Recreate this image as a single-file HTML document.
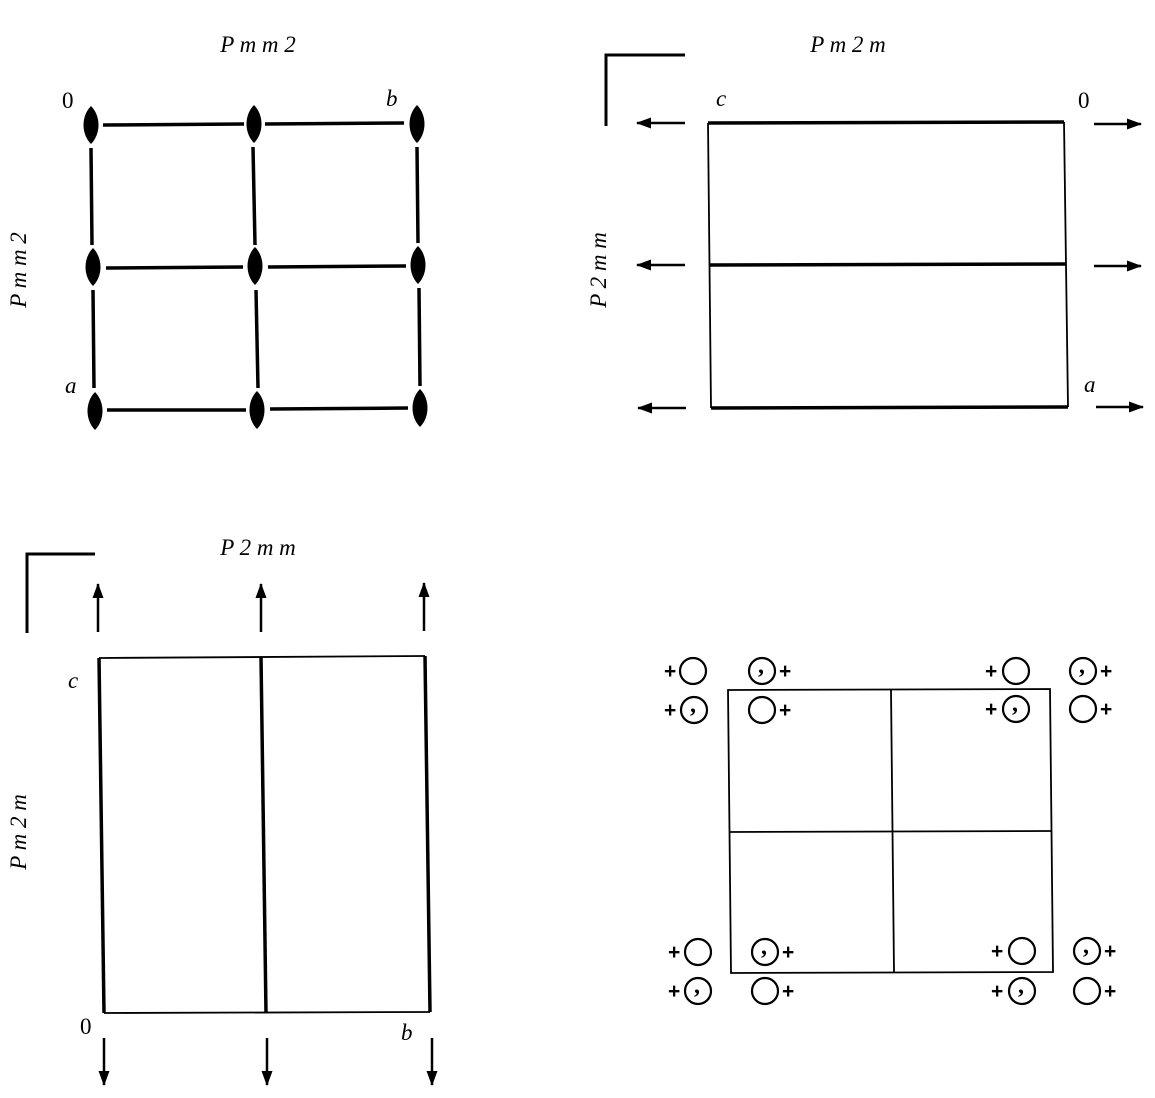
<!DOCTYPE html>
<html><head><meta charset="utf-8"><style>
html,body{margin:0;padding:0;background:#fff;}
svg{display:block;}
text{font-family:"Liberation Serif",serif;font-style:italic;font-size:23px;fill:#000;}
.up{font-style:normal;}
.pl{font-style:normal;font-weight:bold;font-family:"Liberation Sans",sans-serif;font-size:21px;}
.cm{font-style:normal;font-weight:bold;font-family:"Liberation Serif",serif;font-size:24px;}
</style></head><body>
<svg width="1155" height="1098" viewBox="0 0 1155 1098">
<defs>
<marker id="ah" markerWidth="15" markerHeight="11" refX="14" refY="5.5" orient="auto" markerUnits="userSpaceOnUse" viewBox="0 0 15 11">
<path d="M0,0 L15,5.5 L0,11 Z" fill="#000"/></marker>
<path id="lens" d="M0,-19 C10,-9 10,9 0,19 C-10,9 -10,-9 0,-19 Z" fill="#000"/>
</defs>
<!-- Panel 1 -->
<g>
<text x="258" y="52" text-anchor="middle">P m m 2</text>
<text x="0" y="0" transform="translate(26,270) rotate(-90)" text-anchor="middle">P m m 2</text>
<text x="62" y="108" class="up">0</text>
<text x="386" y="106">b</text>
<text x="65" y="393">a</text>
<g stroke="#000" stroke-width="3.5">
<line x1="103" y1="125" x2="244" y2="124"/><line x1="265" y1="124" x2="404" y2="123"/>
<line x1="106" y1="268" x2="243" y2="267"/><line x1="268" y1="267" x2="406" y2="266"/>
<line x1="107" y1="410" x2="246" y2="410"/><line x1="270" y1="409" x2="408" y2="408"/>
<line x1="91" y1="148" x2="92" y2="245"/><line x1="93" y1="290" x2="94" y2="388"/>
<line x1="253" y1="147" x2="255" y2="245"/><line x1="256" y1="290" x2="258" y2="388"/>
<line x1="417" y1="147" x2="418" y2="243"/><line x1="419" y1="288" x2="420" y2="386"/>
</g>
<use href="#lens" x="91" y="125"/><use href="#lens" x="254" y="124"/><use href="#lens" x="417" y="124"/>
<use href="#lens" x="93" y="267"/><use href="#lens" x="255" y="266"/><use href="#lens" x="418" y="265"/>
<use href="#lens" x="95" y="411"/><use href="#lens" x="257" y="410"/><use href="#lens" x="420" y="408"/>
</g>
<!-- Panel 2 -->
<g>
<text x="848" y="52" text-anchor="middle">P m 2 m</text>
<text x="0" y="0" transform="translate(606,270) rotate(-90)" text-anchor="middle">P 2 m m</text>
<text x="716" y="106">c</text>
<text x="1078" y="108" class="up">0</text>
<text x="1084" y="392">a</text>
<path d="M606,126 V55 H685" fill="none" stroke="#000" stroke-width="3"/>
<g stroke="#000">
<line x1="708" y1="123" x2="1064" y2="122" stroke-width="3.5"/>
<line x1="709" y1="265" x2="1066" y2="264" stroke-width="3.5"/>
<line x1="711" y1="408" x2="1068" y2="407" stroke-width="3.5"/>
<line x1="708" y1="123" x2="711" y2="408" stroke-width="1.8"/>
<line x1="1064" y1="122" x2="1068" y2="407" stroke-width="1.8"/>
</g>
<g stroke="#000" stroke-width="2.5" marker-end="url(#ah)">
<line x1="685" y1="123" x2="637" y2="123"/><line x1="685" y1="265" x2="637" y2="265"/><line x1="686" y1="408" x2="638" y2="408"/>
<line x1="1094" y1="124" x2="1141" y2="124"/><line x1="1094" y1="266" x2="1141" y2="266"/><line x1="1096" y1="407" x2="1143" y2="407"/>
</g>
</g>
<!-- Panel 3 -->
<g>
<text x="258" y="555" text-anchor="middle">P 2 m m</text>
<text x="0" y="0" transform="translate(26,832) rotate(-90)" text-anchor="middle">P m 2 m</text>
<text x="68" y="688">c</text>
<text x="80" y="1034" class="up">0</text>
<text x="401" y="1040">b</text>
<path d="M27,633 V554 H95" fill="none" stroke="#000" stroke-width="3"/>
<g stroke="#000">
<line x1="99" y1="658" x2="104" y2="1013" stroke-width="3.5"/>
<line x1="261" y1="657" x2="266" y2="1013" stroke-width="3.5"/>
<line x1="425" y1="656" x2="430" y2="1012" stroke-width="3.5"/>
<line x1="99" y1="658" x2="425" y2="656" stroke-width="1.8"/>
<line x1="104" y1="1013" x2="430" y2="1012" stroke-width="1.8"/>
</g>
<g stroke="#000" stroke-width="2.5" marker-end="url(#ah)">
<line x1="98" y1="632" x2="98" y2="584"/><line x1="261" y1="632" x2="261" y2="584"/><line x1="424" y1="631" x2="424" y2="583"/>
<line x1="104" y1="1038" x2="104" y2="1085"/><line x1="267" y1="1038" x2="267" y2="1085"/><line x1="432" y1="1038" x2="432" y2="1085"/>
</g>
</g>
<!-- Panel 4 -->
<g>
<g stroke="#000" stroke-width="1.8" fill="none">
<path d="M728,690 L1050,689 L1053,972 L731,973 Z"/>
<line x1="891" y1="690" x2="894" y2="972"/>
<line x1="729" y1="832" x2="1051" y2="831"/>
</g>
<g stroke="#000" stroke-width="2.2" fill="none">
<circle cx="693" cy="671" r="13"/><circle cx="762" cy="671" r="13"/>
<circle cx="694" cy="710" r="13"/><circle cx="762" cy="710" r="13"/>
<circle cx="1016" cy="671" r="13"/><circle cx="1083" cy="671" r="13"/>
<circle cx="1016" cy="709" r="13"/><circle cx="1083" cy="709" r="13"/>
<circle cx="698" cy="952" r="13"/><circle cx="765" cy="952" r="13"/>
<circle cx="698" cy="991" r="13"/><circle cx="765" cy="991" r="13"/>
<circle cx="1022" cy="951" r="13"/><circle cx="1087" cy="951" r="13"/>
<circle cx="1022" cy="991" r="13"/><circle cx="1087" cy="991" r="13"/>
</g>
<g>
<text class="pl" x="664" y="678">+</text><text class="pl" x="779" y="678">+</text>
<text class="pl" x="664" y="717">+</text><text class="pl" x="779" y="717">+</text>
<text class="pl" x="985" y="678">+</text><text class="pl" x="1100" y="678">+</text>
<text class="pl" x="985" y="716">+</text><text class="pl" x="1100" y="716">+</text>
<text class="pl" x="668" y="959">+</text><text class="pl" x="782" y="959">+</text>
<text class="pl" x="668" y="998">+</text><text class="pl" x="782" y="998">+</text>
<text class="pl" x="991" y="958">+</text><text class="pl" x="1104" y="958">+</text>
<text class="pl" x="991" y="998">+</text><text class="pl" x="1104" y="998">+</text>
<text class="cm" x="758" y="673">,</text><text class="cm" x="690" y="712">,</text>
<text class="cm" x="1079" y="673">,</text><text class="cm" x="1012" y="711">,</text>
<text class="cm" x="761" y="954">,</text><text class="cm" x="694" y="993">,</text>
<text class="cm" x="1083" y="953">,</text><text class="cm" x="1018" y="993">,</text>
</g>
</g>
</svg>
</body></html>
